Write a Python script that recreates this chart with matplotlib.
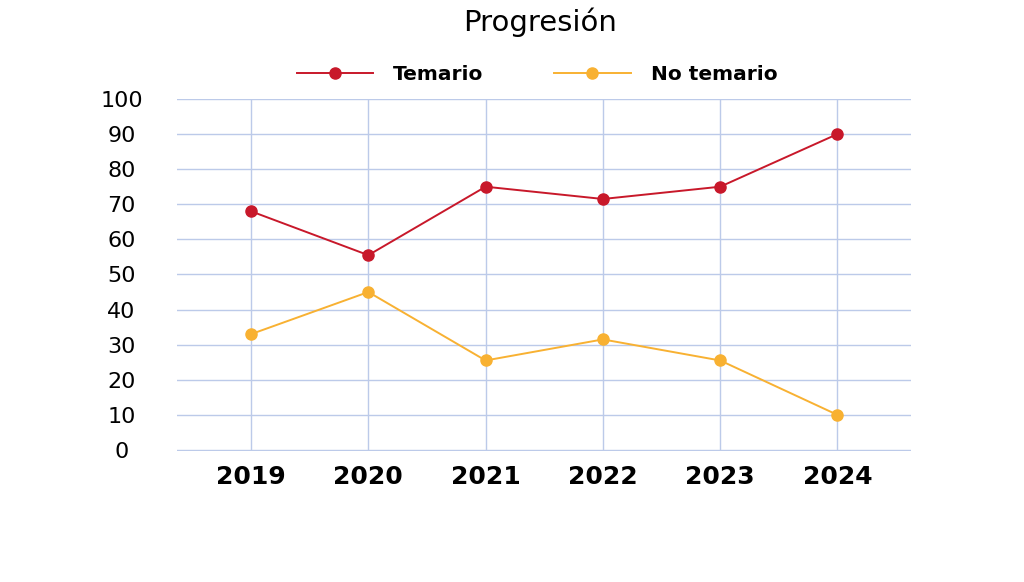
import matplotlib.pyplot as plt

years = ['2019', '2020', '2021', '2022', '2023', '2024']
temario = [68, 55.5, 75, 71.5, 75, 90]
no_temario = [33, 45, 25.5, 31.5, 25.5, 10]

plt.rcParams['font.family'] = ['DejaVu Sans']

fig = plt.figure(figsize=(10.24, 5.82), dpi=100)
ax = fig.add_axes([0.173, 0.225, 0.717, 0.605])

x = range(len(years))
ax.plot(x, temario, color='#c8182a', lw=1.4, marker='o', ms=8, label='Temario', zorder=3)
ax.plot(x, no_temario, color='#f8b132', lw=1.4, marker='o', ms=8, label='No temario', zorder=3)

ax.set_xlim(-0.63, 5.63)
ax.set_ylim(-0.3, 100)
ax.set_yticks(range(0, 101, 10))
ax.set_xticks(list(x))
ax.set_xticklabels(years, fontsize=18, fontweight='bold')
ax.tick_params(axis='y', labelsize=16, length=0, pad=40)
ax.tick_params(axis='x', length=0, pad=10)
for lbl in ax.get_yticklabels():
    lbl.set_horizontalalignment('center')
ax.grid(True, color='#bccae9', lw=1)
ax.set_axisbelow(True)
for s in ax.spines.values():
    s.set_visible(False)

fig.text(0.527, 0.962, 'Progresión', fontsize=21, ha='center', va='center')
leg = ax.legend(loc='center', bbox_to_anchor=(0.49, 1.068), ncol=2, frameon=False,
                prop={'size': 14.5, 'weight': 'bold'}, handlelength=3.8, columnspacing=3.5,
                handletextpad=1.0)

fig.savefig('out.png', dpi=100)
